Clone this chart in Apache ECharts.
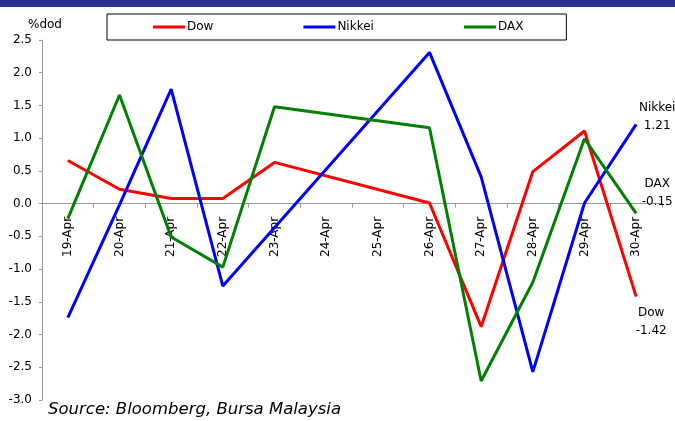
<!DOCTYPE html>
<html>
<head>
<meta charset="utf-8">
<script src="https://cdn.jsdelivr.net/npm/echarts@6/dist/echarts.min.js"></script>
<style>
  html, body { margin: 0; padding: 0; background: #fff; }
  #main { width: 675px; height: 421px; }
</style>
</head>
<body>
<div id="main"></div>
<script>
// 日期（24、25号无数据，折线直接连过去）
var days = ['19-Apr', '20-Apr', '21-Apr', '22-Apr', '23-Apr', '24-Apr',
            '25-Apr', '26-Apr', '27-Apr', '28-Apr', '29-Apr', '30-Apr'];
var dowData    = [0.66, 0.22, 0.08, 0.08, 0.63, null, null, 0.01, -1.88, 0.49, 1.11, -1.42];
var nikkeiData = [-1.74, -0.02, 1.75, -1.26, null, null, null, 2.31, 0.41, -2.57, 0.01, 1.21];
var daxData    = [-0.23, 1.66, -0.51, -0.97, 1.48, null, null, 1.16, -2.71, -1.2, 0.99, -0.15];
var yTicks = { min: -3, max: 2.5, interval: 0.5 };

var font = 'DejaVu Sans';

function makeSeries(name, data, color, offset) {
    return {
        name: name,
        type: 'line',
        data: data,
        symbol: 'none',
        connectNulls: true,
        lineStyle: { color: color, width: 3 },
        itemStyle: { color: color },
        endLabel: {
            show: true,
            distance: 0,
            align: 'center',
            verticalAlign: 'middle',
            offset: offset,
            fontFamily: font,
            fontSize: 12,
            color: '#000',
            lineHeight: 18,
            formatter: function (p) {
                return name + '\n' + p.value.toFixed(2);
            }
        }
    };
}

var option = {
    animation: false,
    backgroundColor: '#fff',
    textStyle: { fontFamily: font },
    graphic: [
        { type: 'rect', left: 0, top: 0, shape: { width: 675, height: 7 }, style: { fill: '#2e3192' } },
        {
            type: 'text', left: 48, top: 401,
            style: { text: 'Source: Bloomberg, Bursa Malaysia', font: 'italic 16.5px "DejaVu Sans"', fill: '#000' }
        }
    ],
    legend: {
        left: 107,
        top: 14,
        padding: [6, 43, 6, 46],
        itemGap: 90,
        itemWidth: 32,
        itemHeight: 3,
        icon: 'rect',
        borderColor: '#000',
        borderWidth: 1,
        textStyle: { fontFamily: font, fontSize: 12, lineHeight: 14, color: '#000', padding: [0, 0, 0, -3] },
        data: ['Dow', 'Nikkei', 'DAX']
    },
    grid: { left: 42, right: 13, top: 40, bottom: 21, outerBoundsMode: 'none', containLabel: false },
    xAxis: {
        type: 'category',
        data: days,
        boundaryGap: true,
        axisLine: { onZero: true, lineStyle: { color: '#999' } },
        axisTick: { show: true, length: 4, lineStyle: { color: '#999' } },
        axisLabel: {
            rotate: 90,
            align: 'left',
            margin: -143, // 标签贴在零线下方
            interval: 0,
            fontFamily: font,
            fontSize: 12,
            color: '#000'
        },
        splitLine: { show: false }
    },
    yAxis: {
        type: 'value',
        min: yTicks.min,
        max: yTicks.max,
        interval: yTicks.interval,
        name: '%dod',
        nameGap: 9,
        nameTextStyle: { fontFamily: font, fontSize: 12, color: '#000', padding: [0, 0, 0, 6] },
        axisLine: { show: true, onZero: false, lineStyle: { color: '#999' } },
        axisTick: { show: true, length: 3, lineStyle: { color: '#999' } },
        axisLabel: {
            margin: 10,
            fontFamily: font,
            fontSize: 12,
            color: '#000',
            formatter: function (v) { return v.toFixed(1); }
        },
        splitLine: { show: false }
    },
    series: [
        makeSeries('Dow', dowData, '#ff0000', [15, 25]),
        makeSeries('Nikkei', nikkeiData, '#0000ff', [21, -8]),
        makeSeries('DAX', daxData, '#008000', [21, -21])
    ]
};

var chart = echarts.init(document.getElementById('main'));
chart.setOption(option);
</script>
</body>
</html>
